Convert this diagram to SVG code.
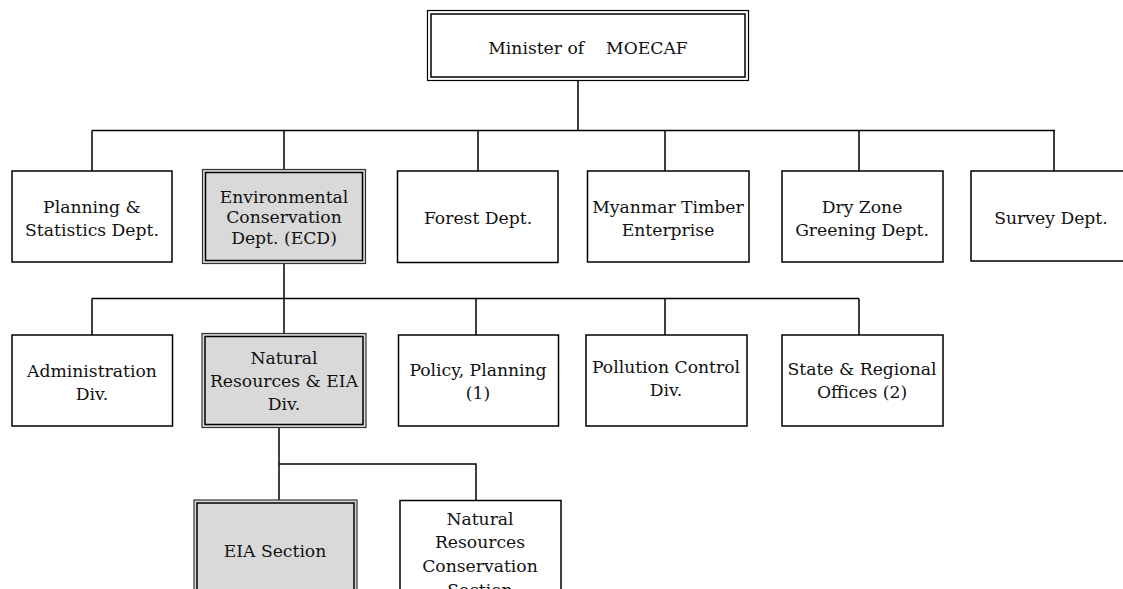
<svg xmlns="http://www.w3.org/2000/svg" width="1123" height="589" viewBox="0 0 1123 589">
<style>
.box{fill:#fff;stroke:#000;stroke-width:1.5}
.hl-o{fill:#d9d9d9;stroke:#333;stroke-width:1.2}
.hl-i{fill:none;stroke:#000;stroke-width:1.5}
.con{fill:none;stroke:#000;stroke-width:1.5}
text{font-family:"DejaVu Serif","Liberation Serif",serif;font-size:17.2px;fill:#111;text-anchor:middle}
</style>
<rect width="1123" height="589" fill="#fff"/>
<g id="connectors">
<path class="con" d="M578 81V130.5M92 130.5H1055M92 130.5V171M284 130.5V170M478 130.5V171M665 130.5V171M859 130.5V171M1054 130.5V171"/>
<path class="con" d="M284 263V298.5M92 298.5H859M92 298.5V335M284 298.5V334M476 298.5V335M665 298.5V335M859 298.5V335"/>
<path class="con" d="M279 427V500M279 464H476V501"/>
</g>
<g id="minister">
<rect x="427.5" y="10.5" width="321" height="70" fill="#fff" stroke="#000" stroke-width="1.2"/>
<rect x="431" y="14" width="314" height="63" class="hl-i"/>
<text x="588" y="54" xml:space="preserve">Minister of    MOECAF</text>
</g>
<g id="planning">
<rect class="box" x="12" y="171" width="160" height="91"/>
<text x="92" y="213">Planning &amp;</text>
<text x="92" y="236">Statistics Dept.</text>
</g>
<g id="ecd">
<rect class="hl-o" x="202.5" y="169.5" width="163" height="94"/>
<rect class="hl-i" x="205.5" y="172.5" width="157" height="88"/>
<text x="284" y="203">Environmental</text>
<text x="284" y="223">Conservation</text>
<text x="284" y="244">Dept. (ECD)</text>
</g>
<g id="forest">
<rect class="box" x="397.5" y="171" width="160.5" height="91.5"/>
<text x="478" y="224">Forest Dept.</text>
</g>
<g id="timber">
<rect class="box" x="587.5" y="171" width="161.5" height="91"/>
<text x="668" y="213">Myanmar Timber</text>
<text x="668" y="236">Enterprise</text>
</g>
<g id="dryzone">
<rect class="box" x="782" y="171" width="161" height="91"/>
<text x="862" y="213">Dry Zone</text>
<text x="862" y="236">Greening Dept.</text>
</g>
<g id="survey">
<rect class="box" x="971" y="171" width="165" height="90"/>
<text x="1051" y="224">Survey Dept.</text>
</g>
<g id="admin">
<rect class="box" x="12" y="335" width="160.5" height="91"/>
<text x="92" y="377">Administration</text>
<text x="92" y="400">Div.</text>
</g>
<g id="nreia">
<rect class="hl-o" x="202" y="333.5" width="164" height="94"/>
<rect class="hl-i" x="205" y="336.5" width="158" height="88"/>
<text x="284" y="364">Natural</text>
<text x="284" y="387">Resources &amp; EIA</text>
<text x="284" y="410">Div.</text>
</g>
<g id="policy">
<rect class="box" x="398.5" y="335" width="160" height="91"/>
<text x="478" y="376">Policy, Planning</text>
<text x="478" y="399">(1)</text>
</g>
<g id="pollution">
<rect class="box" x="586" y="335" width="161" height="91"/>
<text x="666" y="373">Pollution Control</text>
<text x="666" y="396">Div.</text>
</g>
<g id="state">
<rect class="box" x="782" y="335" width="161" height="91"/>
<text x="862" y="375">State &amp; Regional</text>
<text x="862" y="398">Offices (2)</text>
</g>
<g id="eia">
<rect class="hl-o" x="194" y="500" width="163" height="120"/>
<rect class="hl-i" x="197" y="503" width="157" height="114"/>
<text x="275" y="557">EIA Section</text>
</g>
<g id="nrc">
<rect class="box" x="400" y="500.5" width="161" height="120"/>
<text x="480" y="525">Natural</text>
<text x="480" y="548">Resources</text>
<text x="480" y="572">Conservation</text>
<text x="480" y="596">Section</text>
</g>
</svg>
